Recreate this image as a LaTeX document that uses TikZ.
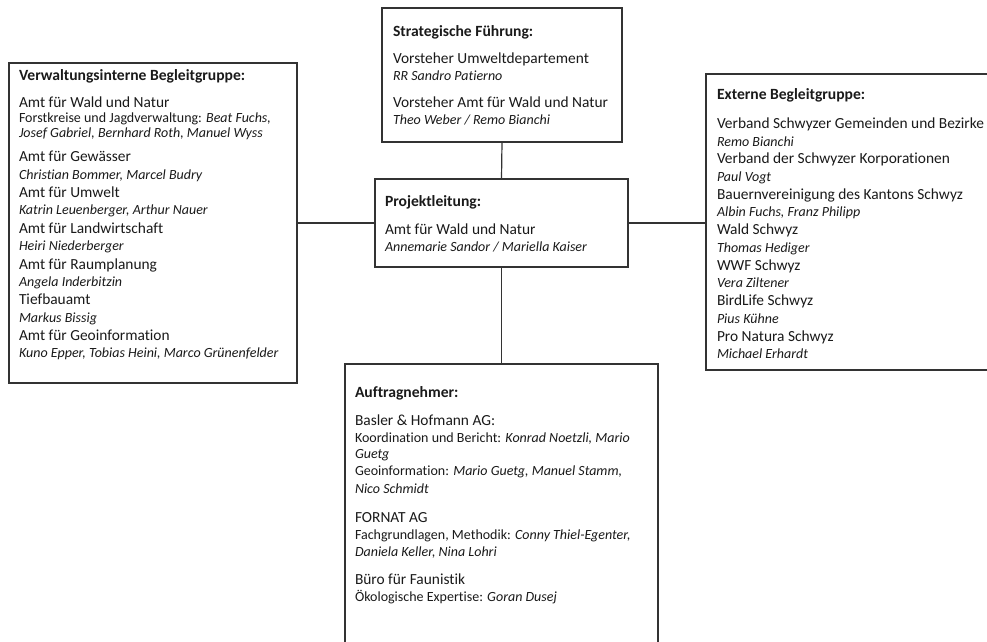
\documentclass[tikz,border=0pt]{standalone}
\usepackage{fontspec}
\setmainfont{Carlito}[Ligatures={NoCommon}]
\newcommand\fzH{\bfseries\fontsize{15.6}{18}\selectfont}
\newcommand\fzB{\fontsize{15.4}{18}\selectfont}
\newcommand\fzS{\fontsize{14}{16}\selectfont}
\definecolor{ink}{HTML}{1A1A1A}
\definecolor{frame}{HTML}{333333}
\begin{document}
\begin{tikzpicture}[x=1pt,y=-1pt,
  box/.style={draw=frame, line width=1.2pt, inner sep=0pt, outer sep=0pt, anchor=north west},
  ln/.style={anchor=base west, inner sep=0pt, outer sep=0pt, text=ink},
  conn/.style={draw=frame, line width=1.2pt}]
\useasboundingbox (0,0) rectangle (987,641);
\clip (0,0) rectangle (987,641);
\fill[white] (0,0) rectangle (987,641);
% boxes
\node[box, minimum width=288pt, minimum height=320pt] (lb) at (9,63) {};
\node[box, minimum width=240pt, minimum height=134pt] (sf) at (382,8) {};
\node[box, minimum width=253pt, minimum height=88pt] (pl) at (375,179) {};
\node[box, minimum width=290pt, minimum height=296pt] (rb) at (706,74) {};
\node[box, minimum width=313pt, minimum height=290pt] (ab) at (345,364) {};
% connectors
\draw[conn] (sf.south) -- (pl.north);
\draw[conn] (pl.south) -- (ab.north);
\draw[conn] (pl.west) -- (lb.east |- pl.west);
\draw[conn] (pl.east) -- (rb.west |- pl.east);
% left box text
\foreach \yy/\ff/\tx [count=\i] in {
  80.5/\fzH/{Verwaltungsinterne Begleitgruppe:},
  107.5/\fzB/{Amt für Wald und Natur},
  122/\fzS/{Forstkreise und Jagdverwaltung: \textit{Beat Fuchs,}},
  137/\fzS/{\itshape Josef Gabriel, Bernhard Roth, Manuel Wyss},
  161/\fzB/{Amt für Gewässer},
  179/\fzS/{\itshape Christian Bommer, Marcel Budry},
  197/\fzB/{Amt für Umwelt},
  214/\fzS/{\itshape Katrin Leuenberger, Arthur Nauer},
  233/\fzB/{Amt für Landwirtschaft},
  250/\fzS/{\itshape Heiri Niederberger},
  269/\fzB/{Amt für Raumplanung},
  286/\fzS/{\itshape Angela Inderbitzin},
  304/\fzB/{Tiefbauamt},
  322/\fzS/{\itshape Markus Bissig},
  340/\fzB/{Amt für Geoinformation},
  357/\fzS/{\itshape Kuno Epper, Tobias Heini, Marco Grünenfelder}}
  \node[ln] (lt\i) at (19,\yy) {\ff\tx};
% top box text
\foreach \yy/\ff/\tx [count=\i] in {
  36/\fzH/{Strategische Führung:},
  63.5/\fzB/{Vorsteher Umweltdepartement},
  80/\fzS/{\itshape RR Sandro Patierno},
  107/\fzB/{Vorsteher Amt für Wald und Natur},
  124/\fzS/{\itshape Theo Weber / Remo Bianchi}}
  \node[ln] (st\i) at (393,\yy) {\ff\tx};
% project lead text
\foreach \yy/\ff/\tx [count=\i] in {
  206/\fzH/{Projektleitung:},
  234/\fzB/{Amt für Wald und Natur},
  251/\fzS/{\itshape Annemarie Sandor / Mariella Kaiser}}
  \node[ln] (pt\i) at (385,\yy) {\ff\tx};
% right box text
\foreach \yy/\ff/\tx [count=\i] in {
  99/\fzH/{Externe Begleitgruppe:},
  128/\fzB/{Verband Schwyzer Gemeinden und Bezirke},
  146/\fzS/{\itshape Remo Bianchi},
  163.5/\fzB/{Verband der Schwyzer Korporationen},
  181/\fzS/{\itshape Paul Vogt},
  199/\fzB/{Bauernvereinigung des Kantons Schwyz},
  216.5/\fzS/{\itshape Albin Fuchs, Franz Philipp},
  234.5/\fzB/{Wald Schwyz},
  252/\fzS/{\itshape Thomas Hediger},
  270/\fzB/{WWF Schwyz},
  287.5/\fzS/{\itshape Vera Ziltener},
  305.5/\fzB/{BirdLife Schwyz},
  323/\fzS/{\itshape Pius Kühne},
  341/\fzB/{Pro Natura Schwyz},
  358.5/\fzS/{\itshape Michael Erhardt}}
  \node[ln] (rt\i) at (717,\yy) {\ff\tx};
% bottom box text
\foreach \yy/\ff/\tx [count=\i] in {
  397/\fzH/{Auftragnehmer:},
  425/\fzB/{Basler \& Hofmann AG:},
  442/\fzS/{Koordination und Bericht: \textit{Konrad Noetzli, Mario}},
  458/\fzS/{\itshape Guetg},
  475/\fzS/{Geoinformation: \textit{Mario Guetg, Manuel Stamm,}},
  493/\fzS/{\itshape Nico Schmidt},
  522/\fzB/{FORNAT AG},
  539/\fzS/{Fachgrundlagen, Methodik: \textit{Conny Thiel-Egenter,}},
  556/\fzS/{\itshape Daniela Keller, Nina Lohri},
  584/\fzB/{Büro für Faunistik},
  601/\fzS/{Ökologische Expertise: \textit{Goran Dusej}}}
  \node[ln] (at\i) at (355,\yy) {\ff\tx};
\end{tikzpicture}
\end{document}
